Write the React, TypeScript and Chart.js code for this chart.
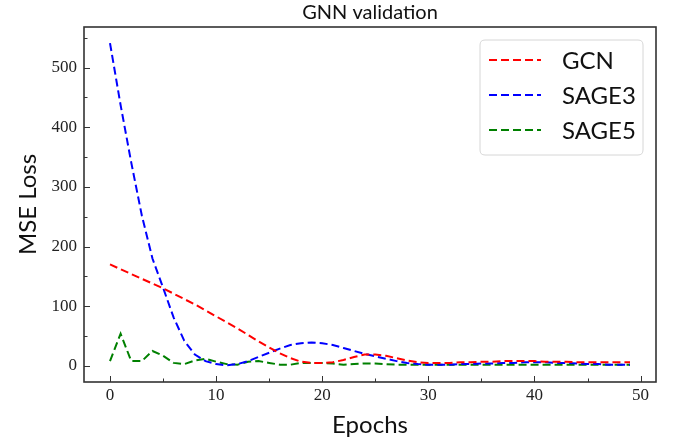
import React, { useEffect, useRef } from "react";
import { Chart, registerables } from "chart.js";

Chart.register(...registerables);

const epochs = [
  0, 1, 2, 3, 4, 5, 6, 7, 8, 9, 10, 11, 12, 13, 14, 15, 16, 17, 18, 19, 20, 21, 22, 23, 24,
  25, 26, 27, 28, 29, 30, 31, 32, 33, 34, 35, 36, 37, 38, 39, 40, 41, 42, 43, 44, 45, 46, 47, 48, 49,
];

const gcn = [
  170, 162, 154, 146, 138, 130, 121, 112, 103, 93, 83, 73, 63, 52, 41, 31, 21, 13, 7, 5, 5, 6, 10, 15, 19,
  19, 17, 13, 9, 6, 5, 5, 5, 6, 6, 7, 7, 8, 8, 8, 8, 7, 7, 7, 6, 6, 6, 6, 6, 6,
];

const sage3 = [
  541, 437, 341, 252, 180, 131, 81, 42, 19, 8, 3, 1, 3, 8, 15, 22, 29, 35, 38, 39, 38, 35, 30, 25, 20,
  16, 12, 8, 5, 3, 2, 2, 2, 3, 3, 4, 4, 5, 5, 6, 6, 6, 5, 5, 4, 3, 3, 2, 2, 2,
];

const sage5 = [
  8, 54, 8, 8, 25, 17, 5, 3, 9, 12, 7, 3, 2, 7, 8, 5, 2, 2, 5, 5, 5, 4, 2, 3, 4,
  4, 3, 2, 2, 2, 2, 2, 2, 2, 2, 2, 2, 2, 2, 2, 2, 2, 2, 2, 2, 2, 2, 2, 2, 2,
];

const seriesNames = ["GCN", "SAGE3", "SAGE5"];
const seriesColors = ["#ff0000", "#0000ff", "#008000"];

const xMajorTicks = [0, 10, 20, 30, 40, 50];
const xMinorTicks = [5, 15, 25, 35, 45];
const yMajorTicks = [0, 100, 200, 300, 400, 500];
const yMinorTicks = [50, 150, 250, 350, 450, 550];

const titleText = "GNN validation";
const xTitle = "Epochs";
const yTitle = "MSE Loss";

const SANS = "Lato, 'DejaVu Sans', sans-serif";
const SERIF = "'Liberation Serif', 'DejaVu Serif', serif";

const decorPlugin = {
  id: "decor",
  afterDraw(chart: any) {
    const { ctx, chartArea: a, scales } = chart;
    const xs = scales.x;
    const ys = scales.y;
    ctx.save();

    // ticks (inward)
    ctx.strokeStyle = "#333";
    ctx.lineWidth = 1;
    ctx.setLineDash([]);
    const tick = (x1: number, y1: number, x2: number, y2: number) => {
      ctx.beginPath();
      ctx.moveTo(x1, y1);
      ctx.lineTo(x2, y2);
      ctx.stroke();
    };
    xMajorTicks.forEach((v) => {
      const px = Math.round(xs.getPixelForValue(v)) + 0.5;
      tick(px, a.bottom, px, a.bottom - 6);
    });
    xMinorTicks.forEach((v) => {
      const px = Math.round(xs.getPixelForValue(v)) + 0.5;
      tick(px, a.bottom, px, a.bottom - 3.5);
    });
    yMajorTicks.forEach((v) => {
      const py = Math.round(ys.getPixelForValue(v)) + 0.5;
      tick(a.left, py, a.left + 6, py);
    });
    yMinorTicks.forEach((v) => {
      const py = Math.round(ys.getPixelForValue(v)) + 0.5;
      tick(a.left, py, a.left + 3.5, py);
    });

    // frame
    ctx.strokeStyle = "#333";
    ctx.lineWidth = 1.6;
    ctx.strokeRect(a.left, a.top, a.right - a.left, a.bottom - a.top);

    // title
    ctx.fillStyle = "#111";
    ctx.textAlign = "center";
    ctx.textBaseline = "middle";
    ctx.font = `20px ${SANS}`;
    ctx.fillText(titleText, (a.left + a.right) / 2, 13);

    // x title
    ctx.font = `24px ${SANS}`;
    ctx.fillText(xTitle, (a.left + a.right) / 2, 425);

    // y title
    ctx.save();
    ctx.translate(28, (a.top + a.bottom) / 2);
    ctx.rotate(-Math.PI / 2);
    ctx.fillText(yTitle, 0, 0);
    ctx.restore();

    // legend
    const lx = 480, ly = 40, lw = 163, lh = 115, r = 5;
    ctx.beginPath();
    ctx.moveTo(lx + r, ly);
    ctx.lineTo(lx + lw - r, ly);
    ctx.quadraticCurveTo(lx + lw, ly, lx + lw, ly + r);
    ctx.lineTo(lx + lw, ly + lh - r);
    ctx.quadraticCurveTo(lx + lw, ly + lh, lx + lw - r, ly + lh);
    ctx.lineTo(lx + r, ly + lh);
    ctx.quadraticCurveTo(lx, ly + lh, lx, ly + lh - r);
    ctx.lineTo(lx, ly + r);
    ctx.quadraticCurveTo(lx, ly, lx + r, ly);
    ctx.closePath();
    ctx.fillStyle = "rgba(255,255,255,0.8)";
    ctx.fill();
    ctx.strokeStyle = "#d6d6d6";
    ctx.lineWidth = 1;
    ctx.stroke();

    chart.data.datasets.forEach((ds: any, i: number) => {
      const yy = 60 + i * 35;
      ctx.strokeStyle = ds.borderColor;
      ctx.lineWidth = 2;
      ctx.setLineDash([8, 4]);
      ctx.beginPath();
      ctx.moveTo(489, yy);
      ctx.lineTo(541, yy);
      ctx.stroke();
      ctx.setLineDash([]);
      ctx.fillStyle = "#111";
      ctx.textAlign = "left";
      ctx.textBaseline = "middle";
      ctx.font = `24px ${SANS}`;
      ctx.fillText(ds.label, 562, yy + 1);
    });

    ctx.restore();
  },
};

export default function App() {
  const ref = useRef<HTMLCanvasElement | null>(null);

  useEffect(() => {
    document.body.style.margin = "0";
    const canvas = ref.current;
    if (!canvas) return;
    const seriesData = [gcn, sage3, sage5];
    const chart = new Chart(canvas, {
      type: "line",
      data: {
        datasets: seriesData.map((vals, i) => ({
          label: seriesNames[i],
          data: epochs.map((e, j) => ({ x: e, y: vals[j] })),
          borderColor: seriesColors[i],
          backgroundColor: seriesColors[i],
          borderWidth: 2,
          borderDash: [8, 4],
          pointRadius: 0,
          tension: 0,
          fill: false,
        })),
      },
      options: {
        animation: false,
        responsive: false,
        maintainAspectRatio: false,
        devicePixelRatio: 1,
        layout: { padding: { top: 27, right: 19, left: 0, bottom: 0 } },
        plugins: {
          legend: { display: false },
          title: { display: false },
          tooltip: { enabled: false },
        },
        scales: {
          x: {
            type: "linear",
            min: -2.45,
            max: 51.45,
            grid: { display: false, drawTicks: false },
            border: { display: false },
            afterBuildTicks: (scale: any) => {
              scale.ticks = xMajorTicks.map((v) => ({ value: v }));
            },
            afterFit: (scale: any) => {
              scale.height = 59;
            },
            ticks: {
              padding: 3,
              maxRotation: 0,
              autoSkip: false,
              color: "#222",
              font: { family: SERIF, size: 17 },
            },
          },
          y: {
            type: "linear",
            min: -27,
            max: 568,
            grid: { display: false, drawTicks: false },
            border: { display: false },
            afterBuildTicks: (scale: any) => {
              scale.ticks = yMajorTicks.map((v) => ({ value: v }));
            },
            afterFit: (scale: any) => {
              scale.width = 84;
            },
            ticks: {
              padding: 7,
              autoSkip: false,
              color: "#222",
              font: { family: SERIF, size: 17 },
            },
          },
        },
      },
      plugins: [decorPlugin],
    });
    return () => chart.destroy();
  }, []);

  return (
    <div style={{ width: 675, height: 441 }}>
      <canvas ref={ref} width={675} height={441} style={{ display: "block", width: 675, height: 441 }} />
    </div>
  );
}
